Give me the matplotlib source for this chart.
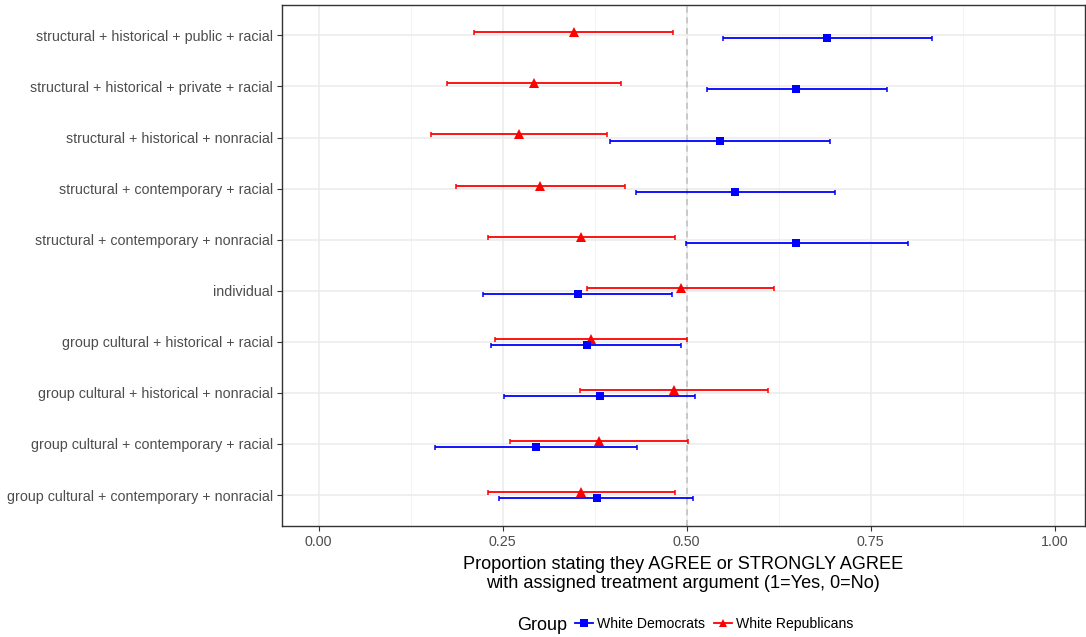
import matplotlib
matplotlib.use("Agg")
import matplotlib.pyplot as plt
from matplotlib.lines import Line2D
import numpy as np

plt.rcParams['font.family'] = ['Liberation Sans', 'DejaVu Sans']

categories = [
    "structural + historical + public + racial",
    "structural + historical + private + racial",
    "structural + historical + nonracial",
    "structural + contemporary + racial",
    "structural + contemporary + nonracial",
    "individual",
    "group cultural + historical + racial",
    "group cultural + historical + nonracial",
    "group cultural + contemporary + racial",
    "group cultural + contemporary + nonracial",
]

dem_est = [0.690, 0.649, 0.545, 0.566, 0.649, 0.352, 0.364, 0.382, 0.295, 0.378]
dem_lo  = [0.549, 0.528, 0.396, 0.431, 0.499, 0.223, 0.234, 0.252, 0.158, 0.245]
dem_hi  = [0.833, 0.772, 0.695, 0.701, 0.800, 0.480, 0.492, 0.512, 0.432, 0.509]

rep_est = [0.347, 0.293, 0.272, 0.301, 0.357, 0.492, 0.370, 0.483, 0.381, 0.357]
rep_lo  = [0.211, 0.174, 0.153, 0.187, 0.230, 0.364, 0.240, 0.355, 0.260, 0.230]
rep_hi  = [0.482, 0.411, 0.392, 0.416, 0.484, 0.619, 0.501, 0.611, 0.502, 0.484]

xticks = [0.0, 0.25, 0.5, 0.75, 1.0]
xtick_labels = ["0.00", "0.25", "0.50", "0.75", "1.00"]
group_names = ["White Democrats", "White Republicans"]

W, H = 1086, 637
fig = plt.figure(figsize=(W / 100, H / 100), dpi=100)
ax = fig.add_axes([281.7 / W, 1 - 525.7 / H, (1085 - 281.7) / W, (525.7 - 4.7) / H])

n = len(categories)
ypos = np.arange(n, 0, -1)  # top category at highest position
dodge = 0.06

ax.set_xlim(-0.05, 1.041)
ax.set_ylim(0.4, n + 0.6)

# grid
for v in [0.125, 0.375, 0.625, 0.875]:
    ax.axvline(v, color='#F2F2F2', lw=0.6, zorder=0)
for v in xticks:
    ax.axvline(v, color='#EBEBEB', lw=1.1, zorder=0)
for y in ypos:
    ax.axhline(y, color='#EBEBEB', lw=1.1, zorder=0)

ax.axvline(0.5, color='#BEBEBE', lw=1.1, ls=(0, (4, 3)), zorder=1)

dem_color = '#0000FF'
rep_color = '#FF0000'

def draw(est, lo, hi, offset, color, marker, ms):
    y = ypos + offset
    est = np.array(est); lo = np.array(lo); hi = np.array(hi)
    ax.errorbar(est, y, xerr=[est - lo, hi - est], fmt='none', ecolor=color,
                elinewidth=1.3, capsize=1.8, capthick=1.1, zorder=3)
    ax.plot(est, y, linestyle='none', marker=marker, color=color, ms=ms,
            markeredgewidth=0, zorder=4)

draw(rep_est, rep_lo, rep_hi, dodge, rep_color, '^', 6.5)
draw(dem_est, dem_lo, dem_hi, -dodge, dem_color, 's', 5.3)

ax.set_yticks(ypos)
ax.set_yticklabels(categories)
ax.set_xticks(xticks)
ax.set_xticklabels(xtick_labels)
ax.tick_params(axis='both', colors='#333333', length=3.5, width=0.8,
               labelcolor='#4D4D4D', labelsize=10.3)
ax.tick_params(axis='x', pad=3)
ax.tick_params(axis='y', pad=3)
for s in ax.spines.values():
    s.set_color('#333333')
    s.set_linewidth(1.0)

ax.set_xlabel("Proportion stating they AGREE or STRONGLY AGREE\nwith assigned treatment argument (1=Yes, 0=No)",
              fontsize=13.1, color='black', labelpad=5, linespacing=1.2)

# legend: title to the left of entries
fig.text(517 / W, 1 - 625 / H, "Group", fontsize=13, ha='left', va='center')
handles = [
    Line2D([], [], color=dem_color, marker='s', ms=5.3, lw=1.3, markeredgewidth=0),
    Line2D([], [], color=rep_color, marker='^', ms=6.3, lw=1.3, markeredgewidth=0),
]
fig.legend(handles, group_names, loc='center left',
           bbox_to_anchor=(575 / W, 1 - 624 / H), ncol=2,
           frameon=False, fontsize=10.1,
           handlelength=1.3, handletextpad=0.3, columnspacing=0.6,
           borderpad=0, borderaxespad=0)

fig.savefig("out.png", dpi=100)
